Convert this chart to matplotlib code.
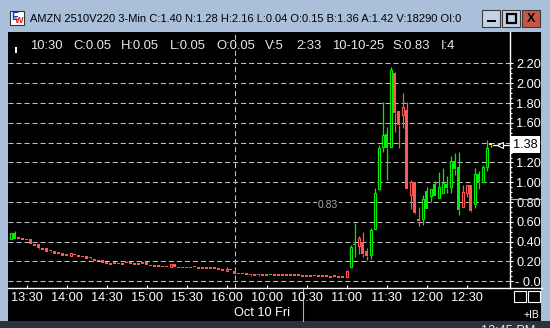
import matplotlib
matplotlib.use("Agg")
import matplotlib.pyplot as plt
from matplotlib.patches import Rectangle
import numpy as np

plt.rcParams['font.family'] = ['Liberation Sans', 'DejaVu Sans']

# ---------------- data ----------------
opens = [.425, .43, .437, .432, .426, .424, .372, .376, .328, .333,
         .312, .306, .285, .286, .268, .283, .280, .270, .253, .253,
         .242, .222, .220, .215, .190, .175, .190, .180, .177, .198,
         .195, .180, .178, .190, .190, .163, .165, .163, .153, .152,
         .170, .170, .142, .140, .142, .141, .150, .140, .137, .137,
         .138, .140, .128, .125, .125, .122, .105, .082, .082, .075,
         .070, .068, .070, .068, .068, .062, .068, .066, .066, .066,
         .072, .072, .066, .052, .052, .052, .058, .062, .052, .055,
         .052, .052, .052, .052, .107, .141, .365, .44, .40, .305,
         .263, .53, .93, 1.36, 1.35, 1.36, 2.107, 1.72, 1.76, 1.73,
         1.00, 1.00, .633, .63, .73, .86, .86, .84, .89, .94,
         .95, 1.13, .72, .90, .97, .97, .78, 1.00, 1.00, 1.15,
         1.40]
highs = [.485, .505, .437, .432, .426, .424, .372, .376, .335, .333,
         .312, .306, .285, .286, .268, .283, .280, .270, .253, .253,
         .242, .222, .220, .215, .190, .175, .190, .180, .177, .205,
         .195, .180, .178, .195, .190, .163, .165, .163, .153, .152,
         .170, .170, .142, .140, .142, .141, .158, .140, .137, .137,
         .138, .140, .128, .125, .140, .122, .105, .082, .082, .075,
         .078, .068, .078, .068, .068, .072, .068, .066, .066, .066,
         .072, .072, .066, .052, .052, .052, .058, .062, .052, .062,
         .052, .052, .052, .052, .110, .37, .59, .46, .50, .34,
         .535, .94, 1.38, 1.81, 1.56, 2.16, 2.115, 1.72, 1.90, 1.81,
         1.02, 1.00, .75, .87, .95, .93, 1.01, 1.10, 1.14, 1.06,
         1.27, 1.30, 1.31, .97, .97, .97, 1.14, 1.11, 1.17, 1.43,
         1.40]
lows = [.425, .43, .432, .428, .422, .374, .356, .330, .318, .300,
        .300, .279, .272, .259, .255, .253, .262, .250, .242, .230,
        .228, .210, .203, .185, .172, .163, .172, .170, .165, .180,
        .180, .168, .168, .172, .160, .150, .148, .148, .143, .149,
        .140, .142, .130, .130, .130, .138, .140, .123, .134, .134,
        .134, .120, .110, .100, .100, .119, .074, .070, .070, .063,
        .058, .055, .058, .055, .055, .062, .055, .055, .055, .055,
        .058, .058, .055, .050, .050, .050, .055, .050, .050, .045,
        .040, .043, .040, .040, .040, .141, .25, .28, .25, .22,
        .23, .53, .93, 1.31, 1.02, 1.36, 1.51, 1.35, 1.55, .935,
        .73, .68, .56, .57, .73, .80, .86, .84, .89, .89,
        .89, 1.07, .67, .75, .85, .70, .74, .93, 1.00, 1.11,
        1.36]
closes = [.485, .485, .432, .428, .422, .374, .366, .333, .325, .300,
          .308, .280, .281, .260, .264, .253, .262, .250, .249, .230,
          .238, .210, .203, .185, .172, .171, .172, .177, .173, .180,
          .180, .168, .168, .172, .160, .160, .148, .148, .150, .149,
          .140, .142, .139, .137, .139, .138, .147, .123, .134, .134,
          .134, .120, .124, .100, .100, .119, .075, .079, .079, .072,
          .067, .055, .067, .055, .055, .072, .055, .063, .063, .063,
          .058, .058, .063, .050, .050, .050, .055, .050, .050, .052,
          .040, .050, .040, .040, .040, .343, .375, .36, .28, .255,
          .515, .89, 1.35, 1.475, 1.49, 2.135, 1.703, 1.58, 1.68, .935,
          .875, .69, .612, .83, .915, .93, .98, .95, .99, .98,
          1.21, 1.21, 1.15, .75, .89, .71, 1.08, 1.08, 1.15, 1.35,
          1.38]
hollow = [1, 0, 0, 0, 0, 0, 0, 0, 0, 0,
          0, 0, 0, 0, 0, 1, 0, 0, 0, 0,
          0, 0, 0, 0, 0, 0, 0, 0, 0, 0,
          0, 0, 0, 0, 0, 0, 0, 0, 0, 0,
          1, 0, 0, 0, 0, 0, 0, 0, 0, 0,
          0, 0, 0, 0, 1, 0, 0, 0, 0, 0,
          0, 0, 0, 0, 0, 0, 0, 0, 0, 0,
          0, 0, 0, 0, 0, 0, 0, 0, 0, 0,
          0, 0, 0, 0, 1, 1, 0, 1, 0, 0,
          1, 1, 1, 1, 0, 1, 0, 0, 1, 0,
          1, 0, 0, 1, 0, 1, 0, 1, 1, 0,
          1, 0, 0, 1, 1, 0, 1, 0, 1, 1,
          0]

time_tick_bars = [4, 14, 24, 34, 44, 54, 64, 74, 84, 94, 104, 114]
time_labels = ['13:30', '14:00', '14:30', '15:00', '15:30', '16:00',
               '10:00', '10:30', '11:00', '11:30', '12:00', '12:30']
price_ticks = [0.0, 0.2, 0.4, 0.6, 0.8, 1.0, 1.2, 1.4, 1.6, 1.8, 2.0, 2.2]
price_labels = ['- 0.0', '0.20', '0.40', '0.60', '0.80', '1.00', '1.20',
                '1.40', '1.60', '1.80', '2.00', '2.20']
session_break_bar = 56
cursor_bar = 73
strike_price = 0.83
title_text = ("AMZN 2510V220 3-Min C:1.40 N:1.28 H:2.16 L:0.04 O:0.15 "
              "B:1.36 A:1.42 V:18290 OI:0")
info_items = ['10:30', 'C:0.05', 'H:0.05', 'L:0.05', 'O:0.05', 'V:5',
              '2:33', '10-10-25', 'S:0.83', 'I:4']

# ---------------- figure ----------------
W, H = 550, 328
fig = plt.figure(figsize=(5.5, 3.28), dpi=100)
fig.patch.set_facecolor('#aac0da')


def fx(x):
    return x / W


def fy(y):
    return 1 - y / H


def frect(x0, y0, x1, y1, z=5, **kw):
    r = Rectangle((fx(x0), fy(y1)), (x1 - x0) / W, (y1 - y0) / H,
                  transform=fig.transFigure, zorder=z, **kw)
    fig.patches.append(r)
    return r


frect(8, 32, 541, 321, z=-5, facecolor='black', edgecolor='none')
frect(0, 321, 550, 328, z=-5, facecolor='#2b323a', edgecolor='none')

ax = fig.add_axes([fx(8), fy(288), (510 - 8) / W, (288 - 32) / H])
ax.set_zorder(1)
ax.patch.set_alpha(0)
ax.set_xlim(-0.675, 124.825)
ax.set_ylim(-0.0677, 2.518)

GREEN = '#00f000'
RED = '#ff5656'
YEL = '#ffff00'
grid_col = '#c4c4c4'

for p in price_ticks:
    ax.axhline(p, color=grid_col, lw=0.75, ls=(0, (4.8, 2.9)), zorder=1)
ax.axvline(session_break_bar, color=grid_col, lw=0.75, ls=(0, (4.8, 2.9)), zorder=1)

n = len(closes)
minh = 0.016
for i in range(n):
    o, h, l, c = opens[i], highs[i], lows[i], closes[i]
    if i == n - 1:
        col = YEL
    else:
        col = GREEN if c > o else RED
    top, bot = max(o, c), min(o, c)
    if top - bot < minh:
        mid = (top + bot) / 2
        top, bot = mid + minh / 2, mid - minh / 2
    if h > top:
        ax.vlines(i, top, h, color=col, lw=0.9, zorder=3)
    if l < bot:
        ax.vlines(i, l, bot, color=col, lw=0.9, zorder=3)
    if hollow[i]:
        ax.bar(i, top - bot, bottom=bot, width=0.52, facecolor='black',
               edgecolor=col, linewidth=0.85, zorder=4)
    else:
        ax.bar(i, top - bot, bottom=bot, width=0.8, color=col,
               linewidth=0, zorder=4)

# spines / ticks
for s in ['top', 'left']:
    ax.spines[s].set_visible(False)
ax.spines['right'].set_color('white')
ax.spines['bottom'].set_color('white')
ax.spines['right'].set_linewidth(1.0)
ax.spines['bottom'].set_linewidth(1.0)
ax.yaxis.tick_right()
ax.set_yticks(price_ticks)
ax.set_yticklabels(price_labels)
ax.set_yticks(np.arange(0, 2.2001, 0.05), minor=True)
ax.tick_params(axis='y', which='major', colors='white', length=2.5, width=0.8,
               pad=19.8, labelsize=9.2, direction='out')
ax.tick_params(axis='y', which='minor', colors='white', length=1.4, width=0.8,
               direction='out')
for t in ax.get_yticklabels():
    t.set_horizontalalignment('right')
ax.set_xticks(time_tick_bars)
ax.set_xticklabels(time_labels)
ax.tick_params(axis='x', colors='white', length=2, width=0.8, pad=3,
               labelsize=9.2, direction='in')

# bottom axis line extension under price scale, cursor line
y0 = ax.get_ylim()[0]
ax.plot([124.825, 132.9], [y0, y0], color='white', lw=1.0, clip_on=False)
ax.plot([cursor_bar, cursor_bar], [y0, -0.40], color='#b0b0b0', lw=0.8,
        clip_on=False, zorder=0)
# strike line on price scale
ax.plot([124.825, 132.6], [strike_price, strike_price], color='#bcbcbc',
        lw=0.8, clip_on=False)
ax.text(79.3, 0.77, '0.83', color='#a8a8a8', fontsize=7.5, ha='center',
        va='center', zorder=5,
        bbox=dict(facecolor='black', edgecolor='none', pad=0.5))

# last price marker
last = closes[-1]
ax.plot([120.6, 124.6], [last, last], color='white', lw=0.9, clip_on=False, zorder=6)
ax.plot([122.4], [last], marker='<', ms=5, mfc='black', mec='white', mew=0.8,
        clip_on=False, zorder=7)
ax.text(1.006, last, f'{last:.2f}', transform=ax.get_yaxis_transform(),
        fontsize=9.2, color='black', ha='left', va='center', zorder=8,
        bbox=dict(facecolor='white', edgecolor='none', pad=1.6))

# date label, etc.
fig.text(fx(234), fy(313), 'Oct 10 Fri', color='white', fontsize=9.2,
         ha='left', va='center')
fig.text(fx(531), fy(315), '+IB', color='white', fontsize=7.5,
         ha='center', va='center')
frect(514, 290.5, 526, 302, facecolor='none', edgecolor='white', lw=0.8)
frect(528, 290.5, 540, 302, facecolor='none', edgecolor='white', lw=0.8)
fig.text(fx(481), fy(324.5), '12:45 PM', color='#e6e6e6', fontsize=9.2,
         ha='left', va='top')

# info line
info_x = [30, 73.7, 121, 170, 216.5, 265, 296.5, 331.6, 392, 441]
for xx, s in zip(info_x, info_items):
    fig.text(fx(xx), fy(45.6), s, color='#e8e8e8', fontsize=9.4,
             ha='left', va='center')
frect(15, 47, 16.8, 53, facecolor='white', edgecolor='none')

# title bar
tt = fig.text(fx(30), fy(19.5), title_text, color='black', fontsize=9,
              ha='left', va='center')
fig.canvas.draw()
w = tt.get_window_extent().width
tt.set_fontsize(9 * 434 / w)

# icon
frect(10, 11, 24, 25, facecolor='white', edgecolor='#333333', lw=0.8)
fig.text(fx(14.5), fy(16.5), 'E', color='#1030d0', fontsize=7.5, ha='center',
         va='center', fontweight='bold', zorder=6)
fig.text(fx(19.5), fy(20.5), 'W', color='#e02020', fontsize=6.5, ha='center',
         va='center', fontweight='bold', zorder=6)

# window buttons
frect(482, 10, 500, 27, facecolor='#c3d3e6', edgecolor='#3a3a3a', lw=0.8)
frect(486.5, 19.5, 495.5, 21.5, z=6, facecolor='black', edgecolor='none')
frect(502, 10, 520, 27, facecolor='#c3d3e6', edgecolor='#3a3a3a', lw=0.8)
frect(506.5, 14.5, 515.5, 22.5, z=6, facecolor='none', edgecolor='black', lw=1.6)
frect(522, 10, 540, 27, facecolor='#c9544a', edgecolor='#3a3a3a', lw=0.8)
fig.text(fx(531), fy(18.5), 'X', color='black', fontsize=9, ha='center',
         va='center', fontweight='bold', zorder=6)

fig.savefig('out.png', dpi=100, facecolor=fig.get_facecolor())
